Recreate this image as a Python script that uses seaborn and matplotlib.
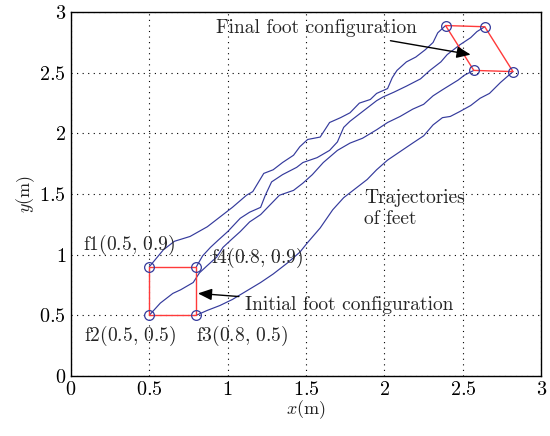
import numpy as np
import pandas as pd
import seaborn as sns
import matplotlib.pyplot as plt

# foot trajectories (x, y in metres)
line1_x = [0.50, 0.59, 0.66, 0.76, 0.87, 0.95, 1.03, 1.12, 1.16, 1.23, 1.29, 1.35, 1.42, 1.46, 1.51, 1.59,
           1.65, 1.72, 1.78, 1.84, 1.91, 1.95, 2.02, 2.05, 2.08, 2.14, 2.20, 2.26, 2.31, 2.34, 2.39]
line1_y = [0.90, 1.04, 1.11, 1.15, 1.23, 1.31, 1.39, 1.49, 1.52, 1.67, 1.70, 1.76, 1.82, 1.89, 1.95, 1.97,
           2.09, 2.13, 2.17, 2.25, 2.28, 2.33, 2.37, 2.46, 2.52, 2.59, 2.63, 2.69, 2.75, 2.83, 2.89]

line2_x = [0.50, 0.57, 0.61, 0.65, 0.70, 0.78, 0.82, 0.87, 0.93, 0.97, 1.02, 1.08, 1.14, 1.21, 1.27, 1.33, 1.42,
           1.48, 1.54, 1.61, 1.70, 1.78, 1.86, 1.95, 2.02, 2.10, 2.18, 2.25, 2.31, 2.37, 2.42, 2.47, 2.51, 2.57]
line2_y = [0.50, 0.60, 0.64, 0.68, 0.71, 0.77, 0.85, 0.91, 0.98, 1.06, 1.12, 1.19, 1.27, 1.33, 1.41, 1.49, 1.53,
           1.59, 1.66, 1.76, 1.86, 1.92, 1.96, 2.03, 2.09, 2.14, 2.20, 2.24, 2.31, 2.36, 2.40, 2.44, 2.48, 2.52]

line3_x = [0.80, 0.87, 0.95, 1.03, 1.12, 1.21, 1.29, 1.38, 1.46, 1.51, 1.59, 1.67, 1.74, 1.83, 1.89, 1.95, 2.02,
           2.10, 2.18, 2.25, 2.31, 2.37, 2.42, 2.48, 2.55, 2.61, 2.67, 2.74, 2.82]
line3_y = [0.50, 0.54, 0.58, 0.63, 0.70, 0.77, 0.84, 0.93, 1.02, 1.10, 1.22, 1.37, 1.47, 1.56, 1.62, 1.70, 1.78,
           1.85, 1.92, 1.98, 2.07, 2.13, 2.14, 2.18, 2.23, 2.29, 2.33, 2.42, 2.51]

line4_x = [0.80, 0.84, 0.89, 0.94, 1.00, 1.08, 1.14, 1.21, 1.24, 1.28, 1.35, 1.44, 1.48, 1.57, 1.65, 1.70, 1.74,
           1.78, 1.83, 1.89, 1.95, 1.99, 2.06, 2.14, 2.23, 2.29, 2.36, 2.40, 2.48, 2.55, 2.59, 2.64]
line4_y = [0.90, 0.99, 1.06, 1.12, 1.19, 1.30, 1.35, 1.39, 1.49, 1.60, 1.66, 1.72, 1.76, 1.80, 1.86, 1.93, 2.05,
           2.10, 2.15, 2.21, 2.27, 2.30, 2.34, 2.39, 2.45, 2.52, 2.59, 2.65, 2.73, 2.79, 2.84, 2.88]

# foot configurations, corners in order f1, f4, f3, f2 (closed)
init_x = [0.5, 0.8, 0.8, 0.5, 0.5]
init_y = [0.9, 0.9, 0.5, 0.5, 0.9]
final_x = [2.39, 2.64, 2.82, 2.57, 2.39]
final_y = [2.89, 2.88, 2.51, 2.52, 2.89]

foot_labels = ["f1$(0.5,\\,0.9)$", "f2$(0.5,\\,0.5)$", "f3$(0.8,\\,0.5)$", "f4$(0.8,\\,0.9)$"]
ticks = [0, 0.5, 1, 1.5, 2, 2.5, 3]
tick_labels = ["$0$", "$0.5$", "$1$", "$1.5$", "$2$", "$2.5$", "$3$"]

sns.set_style("white")
plt.rcParams["font.family"] = "serif"
plt.rcParams["font.serif"] = ["cmr10", "DejaVu Serif"]
plt.rcParams["mathtext.fontset"] = "cm"
plt.rcParams["axes.formatter.use_mathtext"] = True

blue = "#343a9c"
red = "#ff3a3a"

frames = []
for i, (xs, ys) in enumerate([(line1_x, line1_y), (line2_x, line2_y), (line3_x, line3_y), (line4_x, line4_y)]):
    frames.append(pd.DataFrame({"x": xs, "y": ys, "foot": f"f{i + 1}"}))
df = pd.concat(frames, ignore_index=True)

fig = plt.figure(figsize=(5.5, 4.36), dpi=100)
ax = fig.add_axes([0.129, 0.138, 0.855, 0.834])

sns.lineplot(data=df, x="x", y="y", units="foot", estimator=None, sort=False,
             color=blue, lw=0.85, ax=ax)

ax.plot(init_x, init_y, color=red, lw=1.0)
ax.plot(final_x, final_y, color=red, lw=1.0)
ax.plot(init_x[:-1] + final_x[:-1], init_y[:-1] + final_y[:-1], "o", ms=7,
        mfc="none", mec=blue, mew=0.9, ls="none")

ax.set_xlim(0, 3)
ax.set_ylim(0, 3)
ax.set_xticks(ticks)
ax.set_yticks(ticks)
ax.set_xticklabels(tick_labels)
ax.set_yticklabels(tick_labels)
ax.tick_params(direction="in", length=3, labelsize=14.5, colors="black")
ax.grid(True, ls=(0, (1, 4)), color="black", lw=0.8)
for s in ax.spines.values():
    s.set_color("black")
    s.set_linewidth(1.0)

ax.set_xlabel("$x$(m)", fontsize=13, color="#222222", labelpad=0)
ax.set_ylabel("$y$(m)", fontsize=13, color="#222222", labelpad=2)

fs = 14
ax.text(0.37, 1.08, foot_labels[0], fontsize=fs, ha="center", va="center")
ax.text(0.38, 0.33, foot_labels[1], fontsize=fs, ha="center", va="center")
ax.text(1.09, 0.33, foot_labels[2], fontsize=fs, ha="center", va="center")
ax.text(1.19, 0.97, foot_labels[3], fontsize=fs, ha="center", va="center")

ax.annotate("Initial foot configuration", xy=(0.81, 0.68), xytext=(1.11, 0.585),
            fontsize=fs, ha="left", va="center",
            arrowprops=dict(arrowstyle="-|>,head_length=0.6,head_width=0.25", color="black",
                            lw=1.0, shrinkA=2, shrinkB=0))
ax.annotate("Final foot configuration", xy=(2.55, 2.65), xytext=(2.21, 2.87),
            fontsize=fs, ha="right", va="center",
            arrowprops=dict(arrowstyle="-|>,head_length=0.6,head_width=0.25", color="black",
                            lw=1.0, shrinkA=2, shrinkB=0))
ax.text(1.87, 1.38, "Trajectories\nof feet", fontsize=fs, ha="left", va="center", linespacing=1.25)

fig.savefig("out.png", dpi=100)
